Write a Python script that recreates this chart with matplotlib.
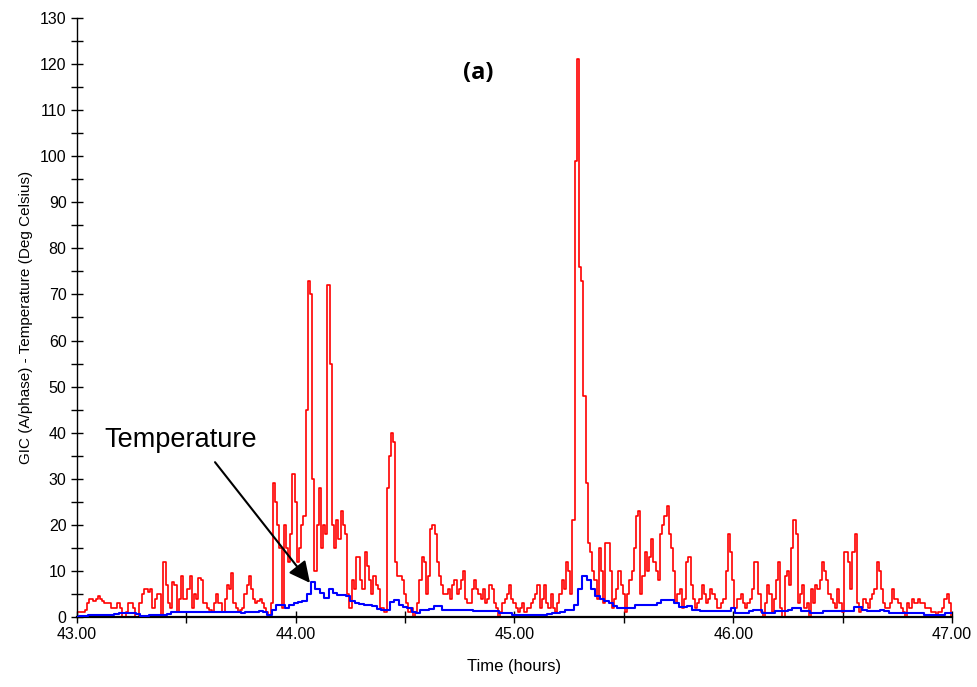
import numpy as np
import matplotlib.pyplot as plt
from matplotlib.ticker import MultipleLocator, FormatStrFormatter

plt.rcParams['font.family'] = ['Liberation Sans', 'DejaVu Sans']

# GIC sampled every 0.01 h, temperature every 0.02 h
gic_hours = np.round(np.linspace(43.0, 47.0, 401), 2)
temp_hours = np.round(np.linspace(43.0, 47.0, 201), 2)

# GIC (A/phase), 0.1 h per row
gic = [
    1, 1, 1, 1, 1.5, 3, 4, 4, 3.5, 4,
    4.5, 4, 3.5, 3, 3, 3, 2, 2, 2, 3,
    2, 0, 0, 1, 3, 3, 2, 0, 0, 3,
    5, 6, 6, 5.5, 6, 2, 4, 5, 5, 0,
    12, 7, 3, 2, 7.5, 7, 1, 4, 9, 4,
    4, 6, 9, 2, 5, 4, 8.5, 8, 3, 3,
    2, 1.5, 1, 3, 5, 3, 3, 1, 4, 7,
    6, 9.5, 3, 2, 1, 1.5, 2, 5, 7, 9,
    6, 4, 3, 3.5, 4, 3, 2, 1, 0.5, 3,
    29, 25, 20, 15, 2, 20, 15, 12, 18, 31,
    25, 12, 15, 20, 22, 45, 73, 70, 30, 10,
    20, 28, 15, 20, 18, 72, 55, 20, 15, 21,
    17, 23, 20, 18, 5, 2, 8, 6, 13, 13,
    8, 6, 14, 11, 8, 5, 9, 7, 6, 2,
    2, 1, 28, 35, 40, 38, 12, 9, 9, 8,
    5, 3, 1, 2, 0, 1, 3, 8, 13, 12,
    5, 9, 19, 20, 18, 12, 9, 7, 5, 5,
    6, 4, 7, 8, 5, 6, 8, 10, 4, 3,
    3, 6, 8, 6, 5, 4, 6, 3, 4, 7,
    6, 3, 2, 0, 1, 3, 4, 5, 7, 4,
    3, 2, 1, 2, 3, 1, 2, 2, 3, 4,
    5, 7, 2, 4, 7, 3, 2, 5, 2, 1,
    3, 5, 8, 6, 12, 10, 5, 21, 99, 121,
    76, 73, 48, 29, 16, 14, 10, 8, 4, 15,
    10, 3, 16, 16, 10, 2, 4, 6, 10, 7,
    5, 1, 5, 8, 10, 15, 22, 23, 5, 9,
    14, 10, 13, 17, 12, 10, 8, 18, 20, 22,
    24, 18, 15, 10, 3, 5, 6, 2, 4, 12,
    13, 7, 4, 2, 3, 4, 7, 5, 3, 4,
    6, 5, 4, 2, 2, 3, 4, 10, 18, 14,
    8, 2, 4, 4, 5, 3, 2, 3, 4, 6,
    12, 12, 5, 1, 0, 3, 7, 5, 1, 4,
    8, 12, 2, 0, 9, 10, 7, 15, 21, 18,
    3, 5, 7, 2, 3, 0, 6, 3, 7, 6,
    8, 12, 10, 8, 5, 4, 3, 2, 6, 3,
    1, 14, 14, 12, 6, 14, 18, 3, 1, 2,
    4, 3, 2, 4, 5, 6, 12, 10, 6, 3,
    2, 2, 3, 6, 4, 4, 3, 2, 1, 0,
    3, 2, 4, 3, 3, 4, 3, 3, 2, 2,
    2, 1, 1, 0, 1, 1, 2, 4, 5, 3,
    0,
]

# Temperature (Deg Celsius), 0.2 h per row
temperature = [
    0.0, 0.2, 0.3, 0.5, 0.5, 0.5, 0.5, 0.5, 0.5, 0.6,
    0.8, 0.8, 0.8, 0.8, 0.6, 0.2, 0.3, 0.5, 0.5, 0.5,
    0.5, 0.7, 1.0, 1.0, 1.0, 1.0, 1.0, 1.0, 1.0, 1.0,
    1.0, 1.0, 1.0, 1.0, 1.0, 1.0, 1.0, 1.0, 0.8, 1.0,
    1.1, 1.1, 1.2, 1.0, 0.4, 1.5, 2.6, 2.5, 1.9, 2.5,
    3.0, 3.3, 3.5, 5.0, 7.7, 6.0, 5.1, 4.2, 6.0, 5.1,
    4.8, 4.8, 4.6, 3.5, 3.0, 2.8, 2.6, 2.6, 2.4, 1.8,
    1.5, 1.6, 3.2, 3.7, 2.6, 2.2, 1.9, 1.0, 0.9, 1.5,
    1.5, 1.8, 2.4, 2.4, 1.6, 1.5, 1.5, 1.5, 1.5, 1.5,
    1.5, 1.2, 1.2, 1.2, 1.2, 1.2, 1.2, 0.8, 0.8, 0.8,
    0.5, 0.4, 0.4, 0.4, 0.4, 0.4, 0.4, 0.4, 0.6, 0.8,
    0.8, 1.0, 1.5, 1.5, 2.5, 6.0, 8.9, 8.0, 6.0, 4.6,
    4.0, 3.5, 3.0, 2.3, 1.9, 1.9, 1.9, 2.0, 2.6, 2.6,
    2.6, 2.6, 2.6, 3.0, 3.7, 3.7, 3.7, 3.0, 2.2, 2.2,
    2.4, 1.5, 1.5, 1.2, 1.2, 1.2, 1.2, 1.2, 1.2, 1.2,
    1.9, 0.9, 0.9, 0.9, 1.2, 1.5, 1.5, 0.9, 0.9, 0.9,
    1.2, 1.2, 1.2, 1.5, 1.9, 1.9, 1.2, 1.2, 0.8, 0.8,
    0.8, 1.3, 1.3, 1.3, 1.3, 1.2, 1.2, 1.2, 2.1, 2.1,
    1.5, 1.2, 1.2, 1.2, 1.5, 1.2, 0.8, 0.8, 0.8, 0.8,
    0.8, 0.8, 0.8, 0.8, 0.4, 0.4, 0.4, 0.4, 0.4, 0.8,
    0.8,
]

fig = plt.figure(figsize=(9.77, 6.87), dpi=100)
ax = fig.add_axes([0.0788, 0.1019, 0.8956, 0.8719])

ax.plot(gic_hours, gic, color='#ff0000', lw=1.2, drawstyle='steps-mid', zorder=2)
ax.plot(temp_hours, temperature, color='#0000ff', lw=1.5, drawstyle='steps-mid', zorder=3)

ax.set_xlim(43, 47)
ax.set_ylim(0, 130)
ax.xaxis.set_major_locator(MultipleLocator(1))
ax.xaxis.set_minor_locator(MultipleLocator(0.5))
ax.xaxis.set_major_formatter(FormatStrFormatter('%.2f'))
ax.yaxis.set_major_locator(MultipleLocator(10))
ax.yaxis.set_minor_locator(MultipleLocator(5))
ax.tick_params(which='both', direction='inout', length=8, width=1, labelsize=11.5)

for s in ['top', 'right']:
    ax.spines[s].set_visible(False)
ax.spines['bottom'].set_linewidth(1.6)
ax.spines['left'].set_linewidth(1.0)

ax.set_xlabel('Time (hours)', fontsize=12, labelpad=12)
ax.set_ylabel('GIC (A/phase) - Temperature (Deg Celsius)', fontsize=11, labelpad=5)

ax.text(44.835, 118, '(a)', fontsize=17, fontweight='bold', family=['Open Sans', 'DejaVu Sans'],
        ha='center', va='center')
ax.text(43.475, 38.4, 'Temperature', fontsize=19.5, ha='center', va='center')
ax.annotate('', xy=(44.065, 7.4), xytext=(43.631, 33.6),
            arrowprops=dict(arrowstyle='-|>', color='black', lw=1.5,
                            mutation_scale=32, shrinkA=0, shrinkB=0))

fig.savefig('out.png', dpi=100)
